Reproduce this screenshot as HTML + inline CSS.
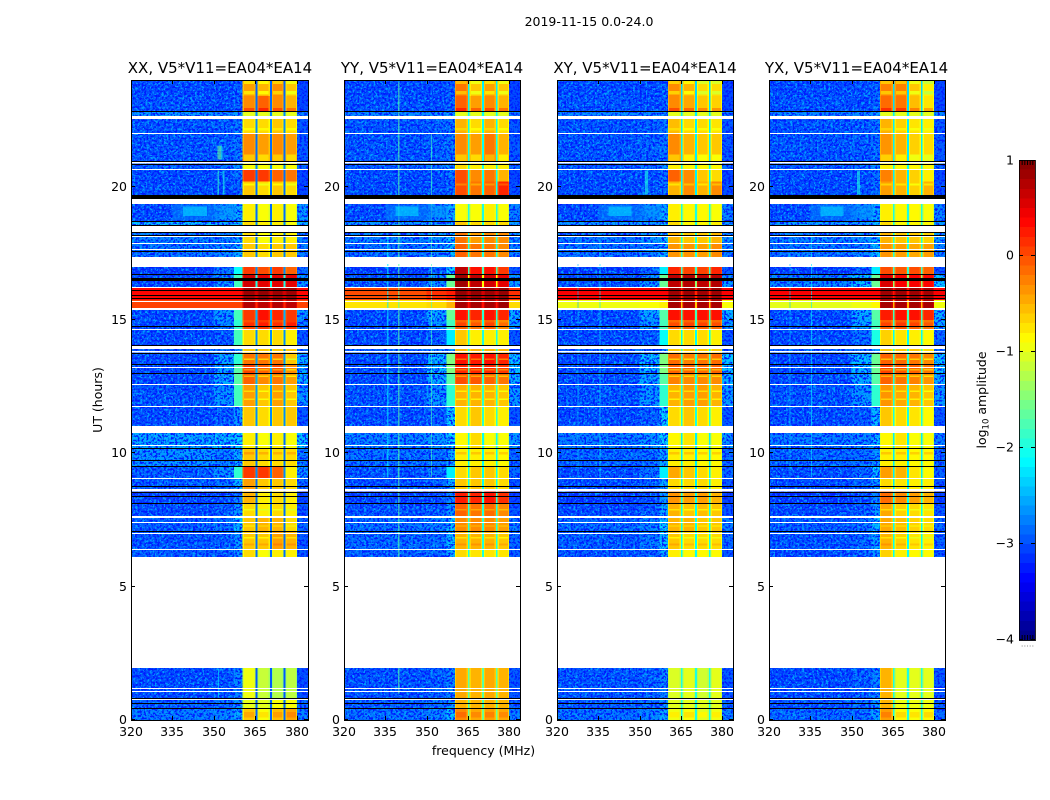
<!DOCTYPE html>
<html lang="en">
<head>
<meta charset="utf-8">
<title>2019-11-15 0.0-24.0</title>
<style>
html,body{margin:0;padding:0;background:#fff;}
svg{display:block;font-family:"DejaVu Sans","Liberation Sans",sans-serif;fill:#000;}
</style>
</head>
<body>
<svg id="figure" width="1050" height="800" viewBox="0 0 1050 800" xmlns="http://www.w3.org/2000/svg">
  <defs>
    <filter id="speckle-light" x="0" y="0" width="1" height="1" color-interpolation-filters="sRGB">
      <feTurbulence type="fractalNoise" baseFrequency="0.42" numOctaves="3" seed="4"/>
      <feColorMatrix type="matrix" values="0 0 0 0 0  0 0 0 0 0.62  0 0 0 0 1  9 0 0 0 -4.6"/>
      <feComposite in2="SourceAlpha" operator="in"/>
    </filter>
    <filter id="speckle-dark" x="0" y="0" width="1" height="1" color-interpolation-filters="sRGB">
      <feTurbulence type="fractalNoise" baseFrequency="0.45" numOctaves="3" seed="11"/>
      <feColorMatrix type="matrix" values="0 0 0 0 0  0 0 0 0 0.1  0 0 0 0 1  9 0 0 0 -4.5"/>
      <feComposite in2="SourceAlpha" operator="in"/>
    </filter>
  </defs>
  <text x="589" y="26" font-size="12.5" text-anchor="middle">2019-11-15 0.0-24.0</text>
  <g id="panels"></g>
  <text x="220" y="73" font-size="15" text-anchor="middle">XX, V5*V11=EA04*EA14</text>
  <text x="432" y="73" font-size="15" text-anchor="middle">YY, V5*V11=EA04*EA14</text>
  <text x="645" y="73" font-size="15" text-anchor="middle">XY, V5*V11=EA04*EA14</text>
  <text x="856.5" y="73" font-size="15" text-anchor="middle">YX, V5*V11=EA04*EA14</text>
  <text x="483.5" y="755" font-size="12.5" text-anchor="middle">frequency (MHz)</text>
  <text transform="translate(102,400) rotate(-90)" font-size="12.5" text-anchor="middle">UT (hours)</text>
  <g id="colorbar"></g>
  <text transform="translate(986,400) rotate(-90)" font-size="12.5" text-anchor="middle">log<tspan font-size="8.5" dy="2.5">10</tspan><tspan dy="-2.5"> amplitude</tspan></text>
</svg>
<script>
// ---- chart data (UT hours, MHz, log10 amplitude) ----
const xTickValues = [320, 335, 350, 365, 380];
const yTickValues = [0, 5, 10, 15, 20];
const colorbarTicks = [1, 0, -1, -2, -3, -4];
const colorbarLabels = ['1', '0', '\u22121', '\u22122', '\u22123', '\u22124'];
const bandEdgesUT = [0,.45,.83,1.95,6.11,6.41,7.05,7.65,8.14,8.63,9.08,9.53,10.2,11.03,11.78,12.6,13.01,13.35,13.73,14.06,14.63,15,15.41,15.75,16.2,16.69,17.03,17.36,17.89,18.3,18.71,19.35,19.69,20.2,20.66,20.96,22.01,22.65,22.84,23.4,24];
// frequency columns: bg, side, ramp, block1, gap, block2, gap, block3, gap, block4, side
const freqEdgesMHz = [320,350,357.3,360.4,365,365.7,370.2,370.9,375.2,375.9,380,384];
const freqColumnField = [0,1,2,3,7,4,7,5,7,6,1];
// spectral windows that carry signal, with roll-off at each end
const blockWindowsMHz = [[360.4,365],[365.7,370.2],[370.9,375.2],[375.9,380]];
const rolloffDrop = -0.18;
// short time ranges where all four spectral windows brighten or fade: [utStart, utEnd, change]
const blockStripesUT = [[23.85,24,-.35],[23.45,23.58,-.35],[22.84,22.95,.3],[22.1,22.2,-.15],[20.96,21.2,-.3],[20.05,20.12,-.25],[14.75,14.9,.15],[13.5,13.56,-.45],[13.1,13.16,-.4],[12.86,12.92,-.4],[12.3,12.36,-.3],[12,12.05,-.3],[9.95,10.05,.2],[7.85,7.92,-.25],[7.25,7.3,-.25],[6.8,6.86,-.25],[6.55,6.62,.15],[.1,.3,.15]];
// each row: [bg, side, ramp, block1, block2, block3, block4, gap]
const valuesXX = [
[-2.75,-2.7,-2.5,-.6,-.9,-.55,-.45,-2.9],[-2.9,-2.8,-2.6,-1,-1,-.9,-.9,-2.9],[-3,-2.95,-2.7,-.95,-1.15,-1.25,-1.2,-2.95],null,
[-2.9,-2.9,-2.6,-.7,-.9,-.8,-.8,-2.85],[-2.95,-2.9,-2.6,-.6,-.6,-.4,-.5,-2.85],[-2.9,-2.8,-2.4,-.6,-.5,-.5,-.7,-2.85],[-3,-2.9,-2.6,-.7,-.8,-.7,-.8,-2.85],
[-3.05,-3,-2.7,-.5,-.8,-.7,-.8,-2.85],[-2.9,-2.8,-2.4,-.4,-.6,-.6,-.7,-2.85],[-2.9,-2.6,-1.9,.1,.1,-.1,-.8,-2.7],[-2.6,-2.7,-2.5,-.6,-.7,-.7,-.7,-2.85],
[-2.5,-2.4,-2.3,-.8,-.9,-.8,-.9,-2.85],[-3,-2.9,-2.6,-.6,-.7,-.6,-.6,-2.7],[-2.95,-2.6,-1.8,-.4,-.6,-.4,-.6,-2.6],[-3,-2.5,-1.7,-.1,-.3,-.2,-.4,-2.5],
[-3,-2.5,-1.7,.05,-.1,0,-.3,-2.5],[-3,-2.5,-1.9,-.2,-.2,-.2,-.6,-2.6],[-2.9,-2.8,-2.6,-.6,-.6,-.6,-.6,-2.7],[-3,-2.9,-1.8,-.7,-.7,-.7,-.8,-2.7],
[-3,-2.7,-1.9,0,.1,0,.1,-2.6],[-3,-2.6,-1.8,.1,.3,.2,.1,-2.5],[.05,.05,.05,.75,.7,.75,.7,.2],[.35,.35,.35,.85,.9,.85,.85,.6],
[-3,-2.6,-1.8,.6,.5,.5,.5,-2],[-3.1,-2.8,-2.1,.1,0,.1,-.1,-2.7],null,[-2.8,-2.7,-2.5,-.6,-.7,-.6,-.6,-2.8],
[-2.7,-2.7,-2.5,-.7,-.9,-.8,-.8,-2.8],[-2.4,-2.5,-2.4,-.7,-.8,-.8,-.9,-2.7],[-3,-2.6,-2.5,-.8,-.9,-.8,-.9,-2.85],null,
[-3,-3,-2.9,-.6,-.7,-.6,-.7,-2.85],[-3,-3,-2.8,.1,.1,-.1,-.2,-2.85],[-2.9,-2.8,-2.6,-.9,-.9,-.9,-.9,-2.7],[-2.95,-2.9,-2.8,-.3,-.4,-.3,-.4,-2.85],
[-2.95,-2.9,-2.8,-.7,-.7,-.6,-.7,-2.7],[-2.6,-2.7,-2.6,-1,-1,-1,-1,-2.7],[-2.95,-3,-2.9,-.3,-.1,-.3,-.5,-2.85],[-3,-3,-2.9,-.4,-.5,-.3,-.6,-2.9]
];
const valuesYY = [
[-2.8,-2.7,-2.4,-.3,-.45,-.4,-.45,-1.6],[-2.9,-2.8,-2.6,-.5,-.5,-.5,-.5,-1.8],[-2.95,-2.9,-2.7,-.45,-.5,-.45,-.5,-1.7],null,
[-2.9,-2.85,-2.5,-.7,-.75,-.75,-.75,-2],[-2.85,-2.8,-2.4,-.5,-.5,-.5,-.6,-2],[-2.8,-2.7,-2.4,-.3,-.3,-.3,-.4,-2],[-2.95,-2.9,-2.6,-.1,-.2,-.15,-.3,-2],
[-3.05,-3,-2.7,.25,.2,.3,.15,-2],[-3,-2.9,-2.5,-.6,-.6,-.6,-.7,-2.1],[-2.95,-2.8,-2.2,-.7,-.6,-.6,-.7,-2.1],[-2.8,-2.8,-2.5,-.8,-.8,-.8,-.85,-2.1],
[-2.7,-2.6,-2.3,-.85,-.7,-.9,-.9,-2.1],[-3,-2.9,-2.3,-.7,-.6,-.7,-.8,-1.9],[-2.95,-2.6,-1.9,-.5,-.5,-.5,-.6,-1.9],[-3,-2.5,-1.7,0,-.05,-.1,-.2,-1.9],
[-3,-2.4,-1.5,.2,.2,.2,.1,-1.8],[-3,-2.4,-1.5,.3,.25,.3,.2,-1.8],[-2.9,-2.8,-2.6,-.5,-.5,-.5,-.5,-2],[-3,-2.9,-2.2,-.6,-.8,-.8,-.8,-2],
[-3,-2.6,-1.8,-.1,-.2,-.1,-.3,-2],[-3,-2.5,-1.6,.3,.2,.3,.2,-1.9],[-.75,-.7,-.5,.8,.8,.8,.85,.3],[0,.15,.25,.9,.9,.85,.9,.6],
[-2.95,-2.6,-1.6,.85,.7,.6,.5,-.9],[-3.1,-2.9,-2.3,.7,.3,.3,.1,-1.8],null,[-2.8,-2.7,-2.4,-.1,-.2,-.2,-.3,-2],
[-2.7,-2.6,-2.4,-.2,-.4,-.3,-.3,-2],[-2.6,-2.6,-2.4,-.6,-.7,-.7,-.7,-2],[-3,-2.7,-2.5,-.9,-.9,-.8,-.9,-2],null,
[-3,-2.95,-2.85,0,-.2,-.1,.2,-2.1],[-3,-3,-2.8,0,-.3,-.2,-.5,-2.1],[-2.9,-2.8,-2.6,-.7,-.8,-.8,-.8,-2],[-2.95,-2.9,-2.8,-.3,-.4,-.2,-.5,-2.1],
[-2.95,-2.9,-2.8,-.5,-.7,-.5,-.7,-2.1],[-2.7,-2.7,-2.6,-1,-1,-1,-1,-2.1],[-2.95,-3,-2.9,-.1,-.4,-.3,-.5,-2.2],[-3,-3,-2.9,-.2,-.6,-.4,-.6,-2.2]
];
const valuesXY = [
[-2.8,-2.7,-2.5,-.95,-.9,-1,-.95,-2],[-2.9,-2.8,-2.6,-1,-1,-1,-1,-2],[-2.95,-2.9,-2.7,-1.05,-1,-1.1,-1,-2],null,
[-2.95,-2.9,-2.5,-.8,-.85,-.85,-.85,-2.1],[-2.9,-2.8,-2.4,-.6,-.7,-.7,-.7,-2.1],[-2.85,-2.7,-2.3,-.5,-.5,-.6,-.6,-2.1],[-3,-2.9,-2.5,-.5,-.6,-.55,-.6,-2.1],
[-3.1,-3,-2.6,-.35,-.4,-.4,-.5,-2.1],[-3,-2.9,-2.5,-.7,-.7,-.7,-.8,-2.2],[-3,-2.8,-2.2,-.45,-.6,-.7,-.8,-2.2],[-2.85,-2.8,-2.5,-.8,-.8,-.85,-.85,-2.2],
[-2.75,-2.6,-2.3,-.85,-.75,-.9,-.9,-2.2],[-3,-2.9,-2.3,-.7,-.6,-.7,-.8,-2],[-2.95,-2.6,-1.9,-.5,-.4,-.4,-.5,-2],[-3,-2.5,-1.7,-.25,-.3,-.3,-.3,-2],
[-3,-2.4,-1.5,-.1,-.1,-.15,-.1,-1.9],[-3,-2.4,-1.5,-.15,-.25,-.2,-.15,-1.9],[-2.9,-2.8,-2.6,-.6,-.6,-.6,-.6,-2],[-3,-2.9,-2.1,-.7,-.7,-.7,-.8,-2.1],
[-3,-2.6,-1.8,-.15,-.1,-.1,-.15,-1.9],[-3,-2.5,-1.7,.3,.3,.3,.3,-1.8],[-.95,-.9,-.8,.8,.8,.8,.8,-.6],[.4,.4,.4,.85,.85,.85,.85,.2],
[-2.95,-2.6,-1.6,.7,.75,.7,.75,-1.4],[-3.1,-2.9,-2.2,.2,.05,.05,.2,-1.9],null,[-2.8,-2.7,-2.4,-.35,-.35,-.4,-.3,-2],
[-2.75,-2.6,-2.4,-.5,-.6,-.6,-.5,-2],[-2.6,-2.6,-2.4,-.7,-.85,-.85,-.8,-2],[-3,-2.7,-2.5,-.8,-.85,-.85,-.9,-2],null,
[-3,-2.95,-2.85,-.5,-.3,-.5,-.3,-2.2],[-3,-3,-2.8,-.1,-.3,-.6,-.7,-2.2],[-2.9,-2.8,-2.6,-.8,-.85,-.85,-.85,-2.1],[-2.95,-2.9,-2.8,-.3,-.5,-.6,-.6,-2.2],
[-2.95,-2.9,-2.8,-.55,-.7,-.7,-.75,-2.2],[-2.7,-2.7,-2.6,-1,-1,-1,-1,-2.2],[-2.95,-3,-2.9,-.3,-.45,-.6,-.65,-2.3],[-3,-3,-2.9,-.3,-.5,-.7,-.7,-2.3]
];
const valuesYX = [
[-2.85,-2.8,-2.5,-.4,-.85,-.9,-.85,-2],[-2.95,-2.85,-2.6,-.5,-.95,-.95,-.95,-2],[-3,-2.9,-2.7,-.5,-1,-1,-1,-2],null,
[-3,-2.9,-2.6,-.65,-.8,-.85,-.85,-2.1],[-2.95,-2.85,-2.5,-.5,-.65,-.75,-.8,-2.1],[-2.9,-2.8,-2.4,-.45,-.55,-.65,-.7,-2.1],[-3,-2.9,-2.6,-.45,-.65,-.7,-.75,-2.1],
[-3.1,-3,-2.7,-.15,-.3,-.4,-.5,-2.1],[-3,-2.9,-2.6,-.7,-.75,-.8,-.8,-2.2],[-3,-2.85,-2.3,-.4,-.5,-.75,-.85,-2.2],[-2.85,-2.8,-2.6,-.8,-.8,-.85,-.85,-2.2],
[-2.75,-2.7,-2.4,-.85,-.75,-.9,-.9,-2.2],[-3,-2.9,-2.4,-.6,-.7,-.75,-.85,-2],[-2.95,-2.6,-1.9,-.35,-.45,-.5,-.6,-2],[-3,-2.5,-1.7,-.1,-.2,-.25,-.35,-2],
[-3,-2.4,-1.6,.05,-.05,-.1,-.2,-1.9],[-3,-2.4,-1.6,-.1,-.15,-.2,-.3,-1.9],[-2.9,-2.8,-2.6,-.6,-.6,-.6,-.7,-2],[-3,-2.8,-2,-.65,-.75,-.8,-.85,-2.1],
[-3,-2.5,-1.8,-.1,-.05,-.1,-.2,-1.9],[-3,-2.5,-1.7,.25,.3,.3,.2,-1.8],[-1,-.95,-.85,.8,.8,.8,.8,-.5],[.4,.4,.4,.85,.85,.85,.8,.3],
[-2.7,-2.4,-1.6,.55,.4,.4,.35,-1.4],[-3.1,-2.9,-2.2,0,-.05,0,-.1,-1.9],null,[-2.8,-2.7,-2.4,-.35,-.4,-.45,-.4,-2],
[-2.7,-2.6,-2.4,-.5,-.6,-.6,-.65,-2],[-2.55,-2.6,-2.4,-.7,-.85,-.85,-.85,-2],[-3,-2.7,-2.5,-.8,-.85,-.85,-.9,-2],null,
[-3,-2.95,-2.85,-.4,-.5,-.65,-.5,-2.2],[-3,-3,-2.8,-.25,-.5,-.65,-.8,-2.2],[-2.9,-2.8,-2.6,-.8,-.85,-.85,-.85,-2.1],[-2.95,-2.9,-2.8,-.35,-.5,-.65,-.7,-2.2],
[-2.95,-2.9,-2.8,-.5,-.65,-.75,-.8,-2.2],[-2.7,-2.7,-2.6,-1,-1,-1,-1,-2.2],[-2.95,-3,-2.9,-.15,-.2,-.55,-.75,-2.3],[-3,-3,-2.9,-.25,-.25,-.6,-.8,-2.3]
];
// isolated features: [freqStart, freqEnd, utStart, utEnd, value]
const featuresXX = [[335,352,18.75,19.33,-2.75],[338.8,347.4,18.9,19.25,-2.3],[352,358,18.85,19.3,-2.6],[351.2,352.5,21.02,21.53,-1.6],[352.6,353,21.02,21.53,-2],[351.3,351.8,19.7,20.6,-1.9],[353.3,353.8,19.7,20.6,-2],[351.4,351.8,.85,1.9,-2.2]];
const featuresYY = [[335.7,336.1,9.1,18.2,-2.2],[339.7,340.1,1.0,23.9,-1.7],[351.6,352,9.1,22,-1.8],[335,352,18.75,19.33,-2.75],[338.8,347,18.9,19.25,-2.3],[352,358,18.85,19.3,-2.6]];
const featuresXY = [[327.4,327.8,9.1,18.2,-2.5],[335.4,335.8,9.1,18.2,-2.2],[352,353,19.7,20.6,-2],[335,352,18.75,19.33,-2.75],[338.8,347,18.9,19.25,-2.3],[352,358,18.85,19.3,-2.6]];
const featuresYX = [[327.4,327.8,9.1,18.2,-2.4],[335.3,335.7,9.1,18.2,-2.2],[352,353,19.7,20.6,-2],[335,352,18.75,19.33,-2.75],[338.8,347,18.9,19.25,-2.3],[352,358,18.85,19.3,-2.6]];
// flagged time ranges common to every panel: [utStart, utEnd]
const blackRowsUT = [[.41,.45],[.6,.64],[.79,.83],[7.05,7.09],[8.1,8.14],[8.36,8.4],[8.51,8.55],[8.74,8.78],[9.49,9.53],[9.71,9.75],[10.16,10.2],[12.98,13.01],[13.31,13.35],[13.73,13.76],[14.03,14.06],[14.74,14.78],[15.79,15.83],[15.9,15.94],[16.09,16.13],[16.46,16.58],[16.69,16.73],[17.55,17.59],[18.15,18.19],[18.26,18.3],[18.53,18.56],[18.68,18.71],[19.54,19.69],[20.81,20.85],[20.93,20.96],[22.8,22.84]];
const whiteRowsUT = [[.75,.79],[1.05,1.09],[1.16,1.2],[1.95,6.11],[6.38,6.41],[6.98,7.01],[7.39,7.43],[7.58,7.65],[8.57,8.66],[9.04,9.08],[10.28,10.31],[10.76,11.03],[11.74,11.78],[12.56,12.6],[13.2,13.24],[13.78,13.84],[13.91,14.03],[14.63,14.66],[15.38,15.45],[15.68,15.71],[16.2,16.24],[16.99,17.03],[17.1,17.36],[17.63,17.66],[17.85,17.89],[18.11,18.15],[18.3,18.53],[19.35,19.54],[20.63,20.66],[20.87,20.93],[21.975,22.01],[22.54,22.65]];
const panelValues = [valuesXX, valuesYY, valuesXY, valuesYX];
const panelFeatures = [featuresXX, featuresYY, featuresXY, featuresYX];
const panelKeys = ['xx', 'yy', 'xy', 'yx'];
const colorbarMinorTicks = [0, 1, 2, 3, 4];
const colorbarLevels = [1,.9,.8,.7,.6,.5,.4,.3,.2,.1,0,-.1,-.2,-.3,-.4,-.5,-.6,-.7,-.8,-.9,-1,-1.1,-1.2,-1.3,-1.4,-1.5,-1.6,-1.7,-1.8,-1.9,-2,-2.1,-2.2,-2.3,-2.4,-2.5,-2.6,-2.7,-2.8,-2.9,-3,-3.1,-3.2,-3.3,-3.4,-3.5,-3.6,-3.7,-3.8,-3.9];

// ---- axis functions ----
const NS = 'http://www.w3.org/2000/svg';
const panelLeft = [131, 344, 557, 769];
const panelWidth = [177, 176, 176, 176];
const plotTop = 80, plotBottom = 720, freqMin = 320, freqMax = 384, utMin = 0, utMax = 24, cMin = -4, cMax = 1;
const cbLeft = 1019, cbRight = 1035, cbTop = 160, cbBottom = 640;
function xScale(p, f) { return panelLeft[p] + (f - freqMin) / (freqMax - freqMin) * panelWidth[p]; }
function yScale(t) { return plotBottom - (t - utMin) / (utMax - utMin) * (plotBottom - plotTop); }
function cScale(v) { return cbBottom - (v - cMin) / (cMax - cMin) * (cbBottom - cbTop); }
function jet(v) {
  const s = Math.min(1, Math.max(0, (v - cMin) / (cMax - cMin)));
  const ramp = function (x) { return Math.round(255 * Math.min(1, Math.max(0, x))); };
  return 'rgb(' + ramp(Math.min(4 * s - 1.5, 4.5 - 4 * s)) + ',' + ramp(Math.min(4 * s - 0.5, 3.5 - 4 * s)) + ',' + ramp(Math.min(4 * s + 0.5, 2.5 - 4 * s)) + ')';
}
function make(tag, attrs, parent) {
  const el = document.createElementNS(NS, tag);
  for (const k in attrs) el.setAttribute(k, attrs[k]);
  parent.appendChild(el);
  return el;
}
function bandIndex(t) {
  for (let i = 0; i < bandEdgesUT.length - 1; i++) {
    if (t >= bandEdgesUT[i] && t < bandEdgesUT[i + 1]) return i;
  }
  return -1;
}
const panelsRoot = document.getElementById('panels');
panelValues.forEach(function (rows, p) {
  const g = make('g', { 'shape-rendering': 'crispEdges' }, panelsRoot);
  
  
  const L = panelLeft[p], R = L + panelWidth[p];
  rows.forEach(function (row, b) {
    if (!row) return;
    const y0 = yScale(bandEdgesUT[b + 1]), y1 = yScale(bandEdgesUT[b]);
    freqColumnField.forEach(function (field, c) {
      const x0 = xScale(p, freqEdgesMHz[c]), x1 = xScale(p, freqEdgesMHz[c + 1]);
      const cell = make('rect', { x: x0, y: y0, width: x1 - x0, height: y1 - y0, fill: jet(row[field]) }, g);
      
      
    });
    if (row[0] < -2) {
      ['speckle-light', 'speckle-dark'].forEach(function (fid) {
        const x0 = xScale(p, freqMin), x1 = xScale(p, row[2] < -2.2 ? 360.4 : 357.3);
        const sp = make('rect', { x: x0, y: y0, width: x1 - x0, height: y1 - y0, fill: '#000', filter: 'url(#' + fid + ')' }, g);
        
        
      });
      const x2 = xScale(p, 380), x3 = xScale(p, 384);
      const spr = make('rect', { x: x2, y: y0, width: x3 - x2, height: y1 - y0, fill: '#000', filter: 'url(#speckle-dark)' }, g);
      
      
    }
  });
  blockStripesUT.forEach(function (s) {
    const row = rows[bandIndex(s[0])];
    if (!row) return;
    blockWindowsMHz.forEach(function (w, k) {
      const x0 = xScale(p, w[0]), x1 = xScale(p, w[1]);
      const st = make('rect', { x: x0, y: yScale(s[1]), width: x1 - x0, height: yScale(s[0]) - yScale(s[1]), fill: jet(row[3 + k] + s[2]) }, g);
      
      
    });
  });
  rows.forEach(function (row, b) {
    if (!row) return;
    const y0 = yScale(bandEdgesUT[b + 1]), y1 = yScale(bandEdgesUT[b]);
    blockWindowsMHz.forEach(function (w, k) {
      [w[0], w[1] - 0.4].forEach(function (f) {
        const x0 = xScale(p, f);
        const edge = make('rect', { x: x0, y: y0, width: xScale(p, f + 0.4) - x0, height: y1 - y0, fill: jet(row[3 + k] + rolloffDrop) }, g);
        
        
      });
    });
  });
  panelFeatures[p].forEach(function (d) {
    const x0 = xScale(p, d[0]), x1 = xScale(p, d[1]), y0 = yScale(d[3]), y1 = yScale(d[2]);
    const el = make('rect', { x: x0, y: y0, width: Math.max(1, x1 - x0), height: y1 - y0, fill: jet(d[4]), opacity: 0.6 }, g);
    
    
  });
  whiteRowsUT.forEach(function (d) {
    const y0 = yScale(d[1]), y1 = yScale(d[0]);
    const el = make('rect', { x: L, y: y0, width: R - L, height: Math.max(1, y1 - y0), fill: '#fff' }, g);
    
    
  });
  blackRowsUT.forEach(function (d) {
    const y0 = yScale(d[1]), y1 = yScale(d[0]);
    const el = make('rect', { x: L, y: y0, width: R - L, height: Math.max(1, y1 - y0), fill: '#000' }, g);
    
    
  });
  const frame = make('rect', { x: L + 0.5, y: plotTop + 0.5, width: R - L, height: plotBottom - plotTop, fill: 'none', stroke: '#000', 'stroke-width': 1 }, g);
  
  
  xTickValues.forEach(function (f) {
    const x = Math.round(xScale(p, f)) + 0.5;
    const t1 = make('line', { x1: x, x2: x, y1: plotBottom, y2: plotBottom - 4, stroke: '#000' }, g);
    
    
    const t2 = make('line', { x1: x, x2: x, y1: plotTop, y2: plotTop + 4, stroke: '#000' }, g);
    
    
    const lab = make('text', { x: x - 0.5, y: 736, 'font-size': 12.5, 'text-anchor': 'middle' }, g);
    
    
    lab.textContent = String(f);
  });
  yTickValues.forEach(function (t) {
    const y = Math.round(yScale(t)) - 0.5;
    const t1 = make('line', { x1: L, x2: L + 4, y1: y, y2: y, stroke: '#000' }, g);
    
    
    const t2 = make('line', { x1: R, x2: R - 4, y1: y, y2: y, stroke: '#000' }, g);
    
    
    const lab = make('text', { x: L - 4, y: y + 4.5, 'font-size': 12.5, 'text-anchor': 'end' }, g);
    
    
    lab.textContent = String(t);
  });
});

// ---- colorbar ----
const cb = document.getElementById('colorbar');
colorbarLevels.forEach(function (v) {
  const y0 = cScale(v), y1 = cScale(v - 0.1);
  const el = make('rect', { x: cbLeft, y: y0, width: cbRight - cbLeft, height: y1 - y0 + 0.5, fill: jet(v - 0.05), 'shape-rendering': 'crispEdges' }, cb);
  
  
});
const cbFrame = make('rect', { x: cbLeft + 0.5, y: cbTop + 0.5, width: cbRight - cbLeft, height: cbBottom - cbTop, fill: 'none', stroke: '#000', 'stroke-opacity': 0.85, 'shape-rendering': 'crispEdges' }, cb);


colorbarTicks.forEach(function (v, i) {
  const y = Math.round(cScale(v)) - (v === cMax ? -0.5 : 0.5);
  const t1 = make('line', { x1: cbLeft, x2: cbLeft + 4, y1: y, y2: y, stroke: '#000' }, cb);
  
  
  const t2 = make('line', { x1: cbRight, x2: cbRight - 4, y1: y, y2: y, stroke: '#000' }, cb);
  
  
  const lab = make('text', { x: 1014, y: y + 4, 'font-size': 12.5, 'text-anchor': 'end' }, cb);
  
  
  lab.textContent = colorbarLabels[i];
});
colorbarMinorTicks.forEach(function (k) {
  const x = cbLeft + (cbRight - cbLeft) * (k + 1) / 6 + 0.5;
  const a = make('line', { x1: x, x2: x, y1: cbTop, y2: cbTop + 5, stroke: '#000' }, cb);
  
  
  const b = make('line', { x1: x, x2: x, y1: cbBottom, y2: cbBottom - 5, stroke: '#000' }, cb);
  
  
  const d = make('rect', { x: x - 0.5, y: 645.5, width: 1, height: 1, fill: '#888' }, cb);
  
  
});
</script>
</body>
</html>
